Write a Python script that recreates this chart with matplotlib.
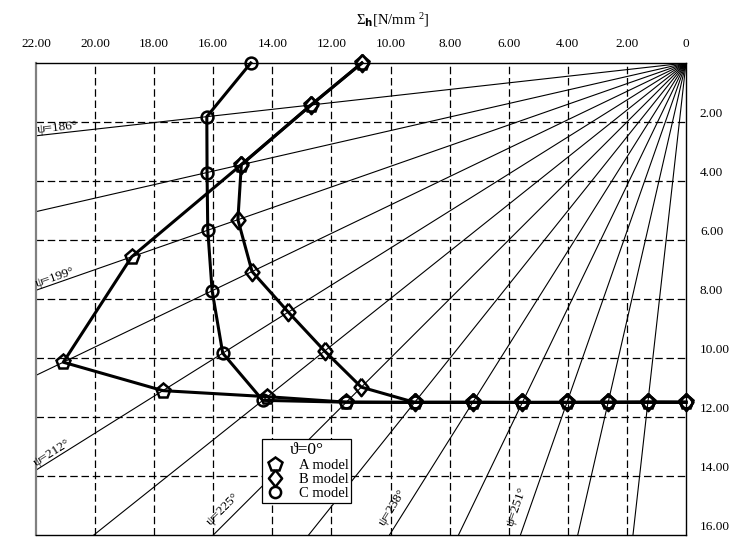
import matplotlib
matplotlib.use('Agg')
import matplotlib.pyplot as plt
import matplotlib.transforms as mtransforms
from matplotlib.lines import Line2D
import numpy as np

plt.rcParams['font.family'] = ['Liberation Serif', 'DejaVu Serif']
plt.rcParams['mathtext.fontset'] = 'custom'
plt.rcParams['mathtext.rm'] = 'Liberation Serif'
plt.rcParams['mathtext.it'] = 'Liberation Serif:italic'
plt.rcParams['mathtext.bf'] = 'DejaVu Sans:bold'

# direction angles psi (deg) of the section rays, 180 = horizontal, 270 = vertical
psi = [180, 186.4, 192.9, 199.3, 205.7, 212.1, 218.6, 225,
       231.4, 237.9, 244.3, 250.7, 257.1, 263.6, 270]

# stress magnitude along each ray [N/mm2]
stress_a = [10.97, 12.77, 15.44, 19.88, 23.39, 20.90, 18.13, 16.26,
            14.72, 13.58, 12.77, 12.19, 11.80, 11.57, 11.50]
stress_b = [10.97, 12.77, 15.44, 16.07, 16.30, 15.89, 15.65, 15.54,
            14.72, 13.58, 12.77, 12.19, 11.80, 11.57, 11.50]
stress_c = [14.73, 16.32, 16.63, 17.15, 17.80, 18.51, 18.33, 16.26,
            14.72, 13.58, 12.77, 12.19, 11.80, 11.57, 11.50]

models = ['A model', 'B model', 'C model']
# a diamond a little narrower than a square
diamond = [(0, 1), (0.8, 0), (0, -1), (-0.8, 0), (0, 1)]
markers = ['p', diamond, 'o']
msizes = [11, 12.5, 8.5]

# rays that get a psi label
labelled_psi = [186.4, 199.3, 212.1, 225, 237.9, 250.7]
label_text = ['ψ=186°', 'ψ=199°', 'ψ=212°', 'ψ=225°', 'ψ=238°', 'ψ=251°']

x_ticks = list(range(0, 23, 2))
x_labels = ['0'] + ['%.2f' % v for v in x_ticks[1:]]
y_ticks = list(range(2, 17, 2))
y_labels = ['%.2f' % v for v in y_ticks]

fig = plt.figure(figsize=(7.31, 5.39), dpi=100)
ax = fig.add_axes([36 / 731, 4 / 539, 650 / 731, 472 / 539])
ax.set_xlim(22, 0)
ax.set_ylim(16, 0)

# dashed grid
for v in x_ticks[1:-1]:
    ax.axvline(v, color='k', lw=0.9, ls=(0, (6, 3)), zorder=1)
for v in y_ticks[:-1]:
    ax.axhline(v, color='k', lw=0.9, ls=(0, (6, 3)), zorder=1)

# rays from the origin
rad = np.radians(psi)
for a in rad[1:-1]:
    ax.plot([0, -40 * np.cos(a)], [0, -40 * np.sin(a)], color='k', lw=0.8, zorder=2)

# psi labels sit where the ray leaves the frame (left edge or bottom edge)
for p, t in zip(labelled_psi, label_text):
    th = p - 180
    if 22 * np.tan(np.radians(th)) < 15.5:
        xa = 21.93
        ya = xa * np.tan(np.radians(th))
    else:
        ya = 15.75
        xa = ya / np.tan(np.radians(th)) + 0.25
    ax.text(xa, ya, t, rotation=th, rotation_mode='anchor', ha='left', va='bottom',
            fontsize=9.5, zorder=3)

# stress curves
for s, m, ms in zip([stress_a, stress_b, stress_c], markers, msizes):
    r = np.array(s)
    ax.plot(-r * np.cos(rad), -r * np.sin(rad), color='k', lw=2.2, marker=m, ms=ms,
            mfc='none', mec='k', mew=1.8, zorder=4, clip_on=False)

ax.xaxis.tick_top()
ax.yaxis.tick_right()
ax.set_xticks(x_ticks)
ax.set_xticklabels(x_labels)
ax.set_yticks(y_ticks)
ax.set_yticklabels(y_labels)
ax.tick_params(axis='x', length=0, labelsize=9.5, pad=9)
ax.tick_params(axis='y', length=0, labelsize=9.5, pad=10)
# right-hand labels sit a little above their grid lines
shift = mtransforms.ScaledTranslation(0, 6.5 / 72, fig.dpi_scale_trans)
for lab in ax.get_yticklabels():
    lab.set_transform(lab.get_transform() + shift)

for side in ['top', 'right', 'bottom']:
    ax.spines[side].set_color('k')
    ax.spines[side].set_linewidth(1.0)
ax.spines['left'].set_color('#808080')
ax.spines['left'].set_linewidth(1.6)

handles = [Line2D([], [], color='k', ls='none', marker=m, ms=ms * 0.95, mfc='none', mew=1.8)
           for m, ms in zip(markers, msizes)]
leg = ax.legend(handles, models, title='ϑ=0°', loc='lower left',
                bbox_to_anchor=(0.348, 0.068), fontsize=10.5, title_fontsize=12.5,
                frameon=True, fancybox=False, edgecolor='k', framealpha=1,
                handlelength=1.4, handletextpad=0.9, borderpad=0.2,
                labelspacing=0.05, borderaxespad=0)
leg.get_frame().set_linewidth(0.9)
leg.set_zorder(5)

fig.text(393 / 731, 1 - 20 / 539, 'Σ$_{\\mathbf{h}}$[N/mm $^{2}$]', ha='center',
         va='center', fontsize=10.5)

plt.savefig('out.png', dpi=100)
